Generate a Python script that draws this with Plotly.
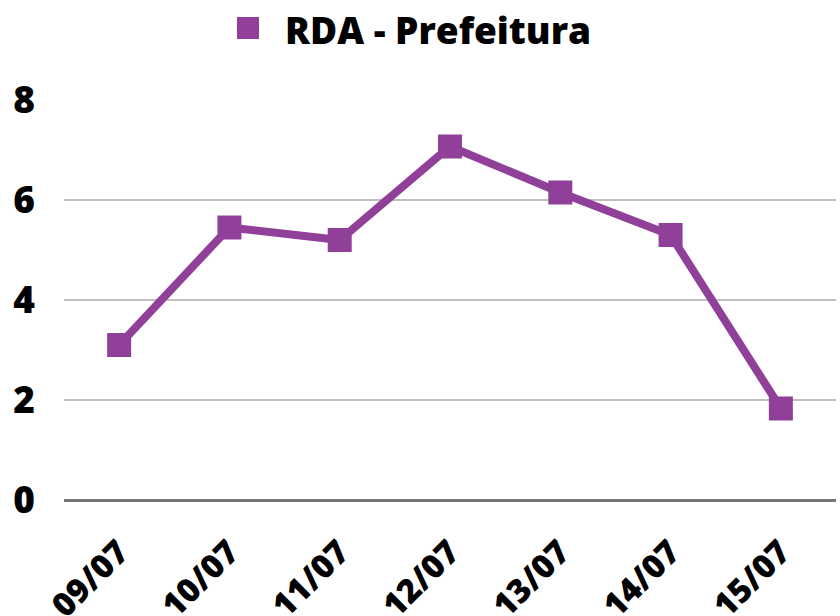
import plotly.graph_objects as go

# RDA - Prefeitura, daily values
dates = ["09/07", "10/07", "11/07", "12/07", "13/07", "14/07", "15/07"]
values = [3.1, 5.45, 5.2, 7.07, 6.15, 5.3, 1.83]
series_name = "RDA - Prefeitura"
y_ticks = [0, 2, 4, 6, 8]

purple = "#91409A"
font_family = "Open Sans, Noto Sans, sans-serif"

W, H = 840, 616
L, R, T, B = 64, 4, 100, 116
pw, ph = W - L - R, H - T - B


# pixel -> paper coords helpers
def px_x(x):
    return (x - L) / pw


def px_y(y):
    return (H - B - y) / ph


fig = go.Figure()
fig.add_trace(go.Scatter(
    x=dates,
    y=values,
    mode="lines+markers",
    name=series_name,
    line=dict(color=purple, width=8),
    marker=dict(symbol="square", size=24, color=purple),
    cliponaxis=False,
    showlegend=False,
))

# legend drawn by hand so the square can be as big as in the original
fig.add_shape(type="rect", xref="paper", yref="paper",
              x0=px_x(237), x1=px_x(259), y0=px_y(39), y1=px_y(17),
              fillcolor=purple, line=dict(width=0))
fig.add_annotation(text=series_name, xref="paper", yref="paper",
                   x=px_x(283), y=px_y(29), xanchor="left", yanchor="middle",
                   showarrow=False,
                   font=dict(family=font_family, size=37, color="black", weight=800))

fig.update_layout(
    width=W, height=H,
    margin=dict(l=L, r=R, t=T, b=B),
    plot_bgcolor="white",
    paper_bgcolor="white",
    font=dict(family=font_family, color="black"),
    xaxis=dict(
        type="category",
        range=[-0.5, len(dates) - 0.5],
        automargin=False,
        showgrid=False,
        showline=False,
        zeroline=False,
        tickangle=-45,
        ticks="",
        ticklabelstandoff=25,
        tickfont=dict(size=33, weight=800),
    ),
    yaxis=dict(
        range=[0, 8],
        tickvals=y_ticks,
        automargin=False,
        showgrid=True,
        gridcolor="#BFBFBF",
        gridwidth=2,
        zeroline=True,
        zerolinecolor="#767676",
        zerolinewidth=3,
        showline=False,
        ticks="",
        ticklabelstandoff=28,
        tickfont=dict(size=37, weight=800),
    ),
)

# drop the browser's default body margin so the figure sits at the page corner
fig.write_html("out.html", config={"displayModeBar": False},
               post_script="document.body.style.margin='0';")
